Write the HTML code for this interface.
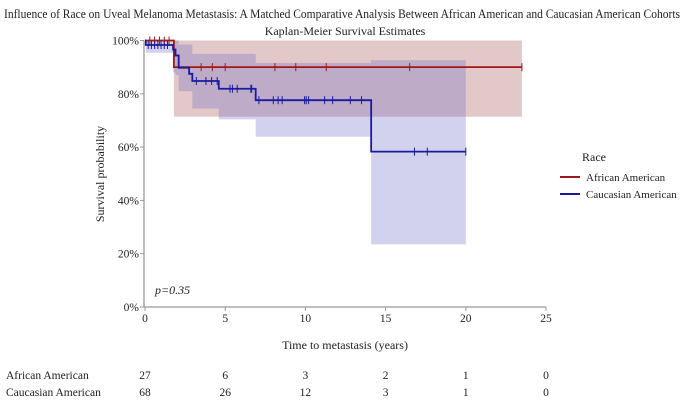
<!DOCTYPE html>
<html><head><meta charset="utf-8"><style>
html,body{margin:0;padding:0;background:#fff;}
svg{display:block;font-family:"Liberation Serif",serif;}
</style></head><body>
<svg id="chart" width="685" height="400" viewBox="0 0 685 400">
<text x="4" y="18" font-size="12.5" fill="#222" textLength="676" lengthAdjust="spacingAndGlyphs">Influence of Race on Uveal Melanoma Metastasis: A Matched Comparative Analysis Between African American and Caucasian American Cohorts</text>
<text x="345" y="35" font-size="12" text-anchor="middle" fill="#222">Kaplan-Meier Survival Estimates</text>
<g id="bands"></g>
<g id="lines"></g>
<g id="axes"></g>
<text x="155" y="294" font-size="12" font-style="italic" fill="#222">p=0.35</text>
<text x="345" y="349" font-size="12" text-anchor="middle" fill="#222">Time to metastasis (years)</text>
<text x="104" y="174" font-size="12" text-anchor="middle" fill="#222" transform="rotate(-90 104 174)">Survival probability</text>
<g>
<text x="582" y="161" font-size="12" fill="#222">Race</text>
<line x1="560" y1="177" x2="580" y2="177" stroke="#a01818" stroke-width="2"/>
<text x="586" y="181" font-size="11" fill="#222">African American</text>
<line x1="560" y1="194" x2="580" y2="194" stroke="#1a1aa0" stroke-width="2"/>
<text x="586" y="198" font-size="11" fill="#222">Caucasian American</text>
</g>
<g id="risk"></g>
</svg>
<script>
const xTicks=[0,5,10,15,20,25];
const yTicks=[0,0.2,0.4,0.6,0.8,1.0];
const aaTimes=[0,1.8,23.5];
const aaSurv=[1,0.9,0.9];
const aaUpper=[1,1,1];
const aaLower=[1,0.714,0.714];
const aaCensor=[0.3,0.6,0.9,1.2,1.5,3.5,4.2,5.0,8.1,9.4,11.3,16.5,23.5];
const caTimes=[0,0.05,1.75,1.9,2.1,2.75,2.95,4.6,6.9,14.1,20];
const caSurv=[1,0.983,0.966,0.944,0.898,0.875,0.848,0.819,0.776,0.583,0.583];
const caUpper=[1,1,1,1,0.985,0.985,0.95,0.95,0.916,0.926,0.926];
const caLower=[1,0.954,0.88,0.87,0.81,0.81,0.745,0.704,0.639,0.235,0.235];
const caCensor=[0.2,0.4,0.6,0.8,1.0,1.2,1.4,3.2,3.8,4.15,4.5,5.3,5.45,5.75,6.6,6.65,7.1,8.0,8.3,8.55,9.95,10.05,10.2,11.2,11.7,12.8,13.5,16.8,17.6,20];
const riskGroups=["African American","Caucasian American"];
const riskAA=[27,6,3,2,1,0];
const riskCA=[68,26,12,3,1,0];
const NS="http://www.w3.org/2000/svg";
const X0=145,X1=546,Y0=307,Y1=40.5;
const sx=t=>X0+(X1-X0)*t/25;
const sy=p=>Y0-(Y0-Y1)*p;
function mk(tag,attrs,parent){const e=document.createElementNS(NS,tag);for(const k in attrs)e.setAttribute(k,attrs[k]);parent.appendChild(e);return e;}
const bands=document.getElementById('bands'),lines=document.getElementById('lines'),axes=document.getElementById('axes'),risk=document.getElementById('risk');
function stepPath(times,vals){let d=`M${sx(times[0])},${sy(vals[0])}`;for(let i=1;i<times.length;i++){d+=` H${sx(times[i])} V${sy(vals[i])}`;}return d;}
function band(times,up,lo,color,name){
  for(let i=0;i<times.length-1;i++){
    const r=mk('rect',{x:sx(times[i]),y:sy(up[i]),width:sx(times[i+1])-sx(times[i]),height:Math.max(0,sy(lo[i])-sy(up[i])),fill:color,'fill-opacity':0.3},bands);
    
    
  }
}
band(aaTimes,aaUpper,aaLower,'#a04848','african-american');
band(caTimes,caUpper,caLower,'#6a6ac8','caucasian-american');
function survAt(times,vals,t){let v=vals[0];for(let i=0;i<times.length;i++){if(times[i]<=t)v=vals[i];}return v;}
function curve(times,vals,cens,color,name){
  const p=mk('path',{d:stepPath(times,vals),fill:'none',stroke:color,'stroke-width':1.8},lines);
  
  
  cens.forEach(t=>{const y=sy(survAt(times,vals,t));
    const l=mk('line',{x1:sx(t),x2:sx(t),y1:y-4,y2:y+4,stroke:color,'stroke-width':1},lines);
    
    });
}
curve(aaTimes,aaSurv,aaCensor,'#a01818','african-american');
curve(caTimes,caSurv,caCensor,'#1a1aa0','caucasian-american');
const ya=mk('line',{x1:X0-1,x2:X0-1,y1:Y1,y2:Y0,stroke:'#999','stroke-width':1.3},axes);


const xa=mk('line',{x1:X0-1,x2:X1,y1:Y0,y2:Y0,stroke:'#999','stroke-width':1.3},axes);


yTicks.forEach(v=>{const y=sy(v);
  const tk=mk('line',{x1:X0-5,x2:X0-1,y1:y,y2:y,stroke:'#999'},axes);
  
  
  const tx=mk('text',{x:X0-6,y:y+4,'font-size':11.5,'text-anchor':'end',fill:'#222'},axes);tx.textContent=Math.round(v*100)+'%';
  
  });
xTicks.forEach((v,i)=>{const x=sx(v);
  const tk=mk('line',{x1:x,x2:x,y1:Y0,y2:Y0+4,stroke:'#999'},axes);
  
  
  const tx=mk('text',{x:x,y:Y0+15,'font-size':11.5,'text-anchor':'middle',fill:'#222'},axes);tx.textContent=v;
  
  
  [riskAA,riskCA].forEach((arr,j)=>{const r=mk('text',{x:x,y:379+j*17,'font-size':11.5,'text-anchor':'middle',fill:'#222'},risk);r.textContent=arr[i];
    
    });
});
riskGroups.forEach((g,j)=>{const r=mk('text',{x:6,y:379+j*17,'font-size':11.5,fill:'#222'},risk);r.textContent=g;
  
  });
</script>
</body></html>
